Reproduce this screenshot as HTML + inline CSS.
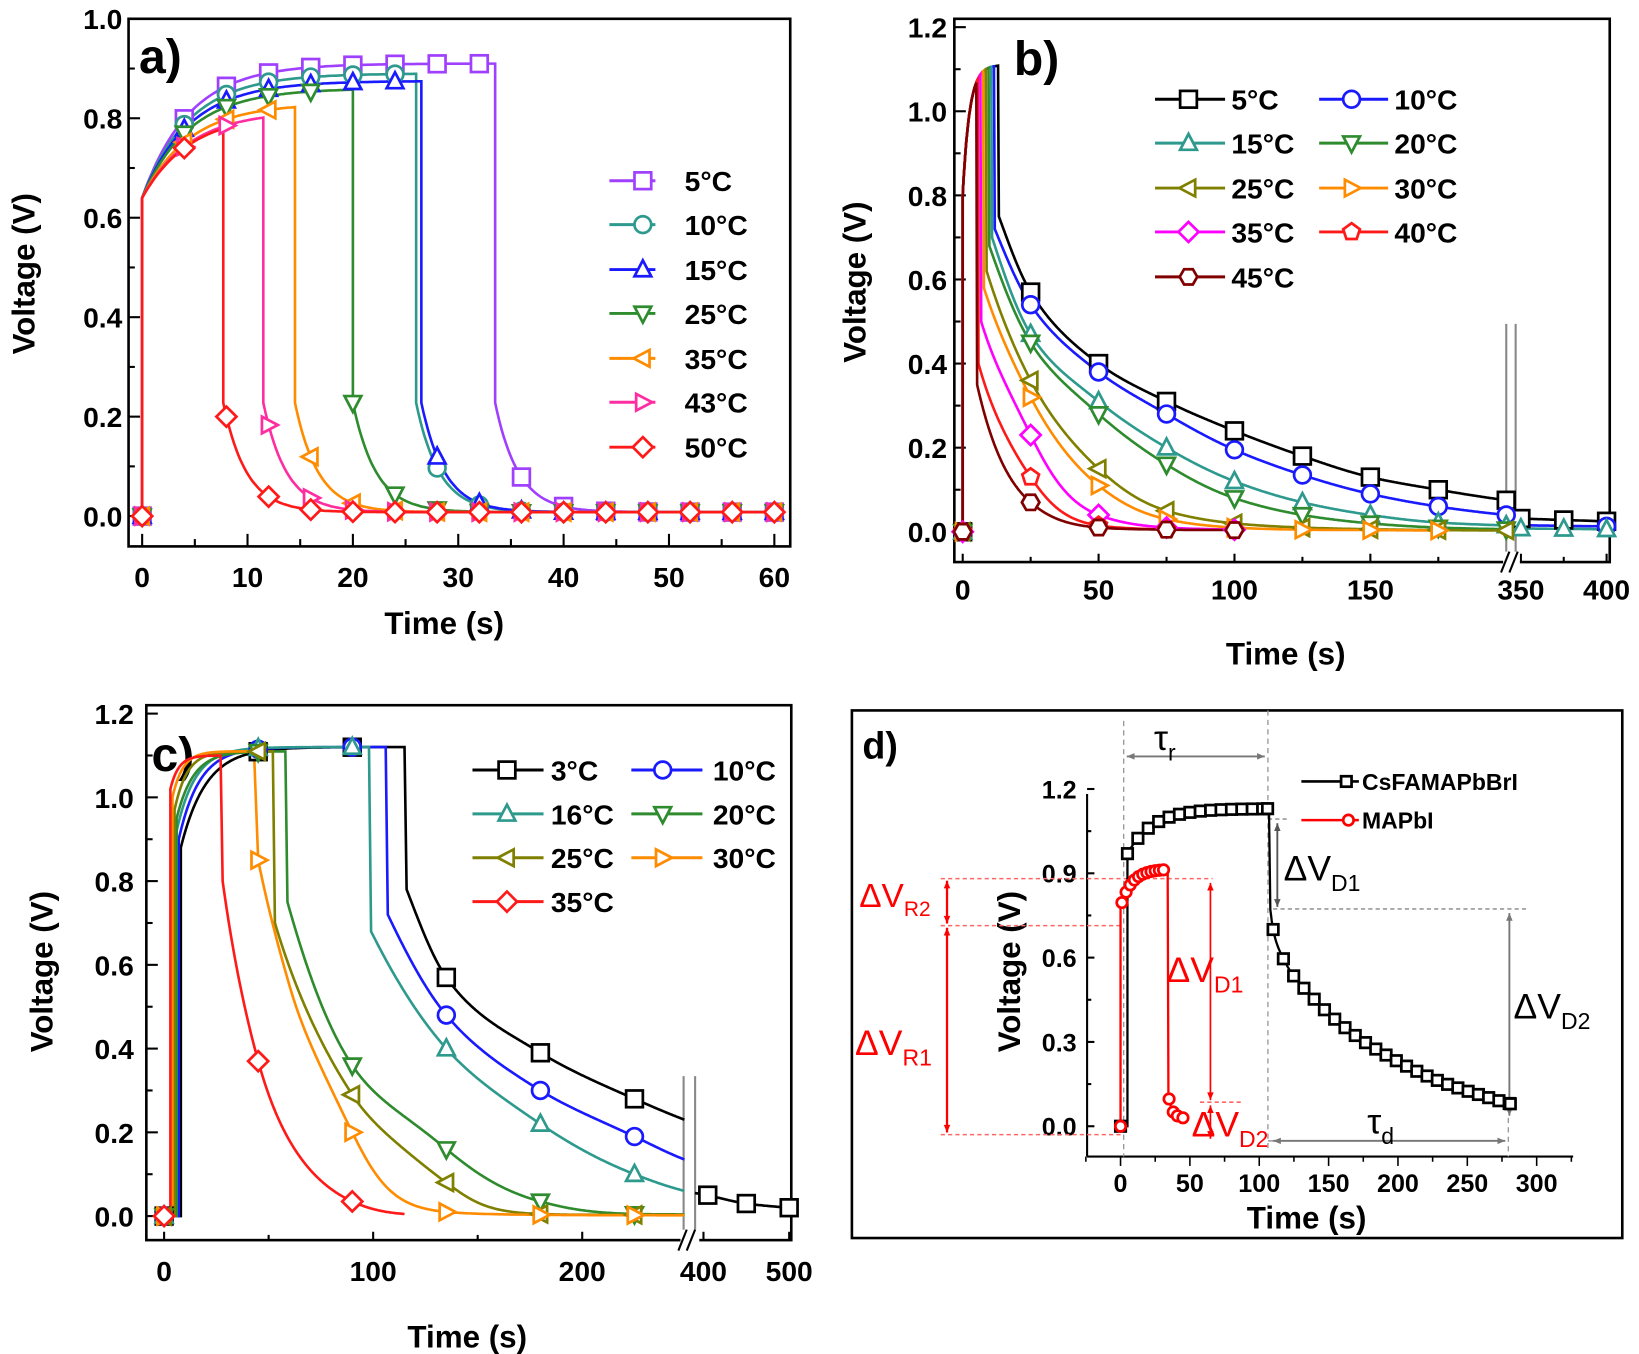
<!DOCTYPE html>
<html><head><meta charset="utf-8"><style>
html,body{margin:0;padding:0;background:#fff}
svg{display:block}
text{font-family:"Liberation Sans",Arial,sans-serif;font-weight:bold}
</style></head><body>
<svg id="s" width="1639" height="1354" viewBox="0 0 1568 1296" preserveAspectRatio="none" xmlns="http://www.w3.org/2000/svg"></svg>
<script>
var out=[];
function mono0(P){var n=P.length,x=P.map(p=>p[0]),y=P.map(p=>p[1]),d=[],m=[];
for(var i=0;i<n-1;i++)d.push((y[i+1]-y[i])/(x[i+1]-x[i]));
m[0]=d[0];m[n-1]=d[n-2];for(i=1;i<n-1;i++)m[i]=d[i-1]*d[i]<=0?0:(d[i-1]+d[i])/2;
for(i=0;i<n-1;i++){if(d[i]==0){m[i]=0;m[i+1]=0;}else{var a=m[i]/d[i],b=m[i+1]/d[i],s=a*a+b*b;if(s>9){var t=3/Math.sqrt(s);m[i]=t*a*d[i];m[i+1]=t*b*d[i];}}}
return function(t){if(t<=x[0])return y[0];if(t>=x[n-1])return y[n-1];var i=0;while(t>x[i+1])i++;var h=x[i+1]-x[i],s=(t-x[i])/h,s2=s*s,s3=s2*s;
return (2*s3-3*s2+1)*y[i]+(s3-2*s2+s)*h*m[i]+(-2*s3+3*s2)*y[i+1]+(s3-s2)*h*m[i+1];};}
function mono(P){var f=mono0(P.map(p=>[p[0],Math.log(Math.max(p[1],0.002))]));return t=>Math.exp(f(t));}
function mk(type,x,y,c,r){r=r||8;var st=' fill="#fff" stroke="'+c+'" stroke-width="2.6"';
function poly(pts){return '<polygon points="'+pts.map(p=>(x+p[0]*r).toFixed(1)+','+(y+p[1]*r).toFixed(1)).join(' ')+'"'+st+'/>';}
if(type=='sq')return '<rect x="'+(x-r)+'" y="'+(y-r)+'" width="'+2*r+'" height="'+2*r+'"'+st+'/>';
if(type=='ci')return '<circle cx="'+x+'" cy="'+y+'" r="'+r+'"'+st+'/>';
if(type=='up')return poly([[0,-1.1],[1,0.8],[-1,0.8]]);
if(type=='dn')return poly([[0,1.1],[1,-0.8],[-1,-0.8]]);
if(type=='lf')return poly([[-1.1,0],[0.8,-1],[0.8,1]]);
if(type=='rt')return poly([[1.1,0],[-0.8,-1],[-0.8,1]]);
if(type=='di')return poly([[0,-1.2],[1.2,0],[0,1.2],[-1.2,0]]);
if(type=='pe'){var a=[];for(var k=0;k<5;k++){var an=-Math.PI/2+k*2*Math.PI/5;a.push([Math.cos(an)*1.05,Math.sin(an)*1.05]);}return poly(a);}
if(type=='hx'){var a=[];for(var k=0;k<6;k++){var an=k*Math.PI/3;a.push([Math.cos(an)*1.05,Math.sin(an)*1.05]);}return poly(a);}}
function path(pts,c,w){return '<path d="M'+pts.map(p=>p[0].toFixed(1)+','+p[1].toFixed(1)).join('L')+'" fill="none" stroke="'+c+'" stroke-width="'+(w||2.5)+'"/>';}
function T(x,y,s,t,a,c,extra){return '<text x="'+x+'" y="'+y+'" font-size="'+s+'" text-anchor="'+(a||'start')+'" fill="'+(c||'#000')+'" '+(extra||'')+'>'+t+'</text>';}
function line(x1,y1,x2,y2,c,w,da){return '<line x1="'+x1+'" y1="'+y1+'" x2="'+x2+'" y2="'+y2+'" stroke="'+(c||'#000')+'" stroke-width="'+(w||2)+'"'+(da?' stroke-dasharray="'+da+'"':'')+'/>';}
function leg(x1,x2,xm,y,c,m,txt,tx){out.push(line(x1,y,x2,y,c,2.8));out.push(mk(m,xm,y,c));out.push(T(tx,y+10,27,txt));}

/* ---------- Panel a ---------- */
(function(){var X=t=>136+t*10.08,Y=v=>494-v*476;
out.push('<rect x="123" y="18" width="633" height="505" fill="none" stroke="#000" stroke-width="2.5"/>');
for(var t=0;t<=60;t+=5){out.push(line(X(t),523,X(t),t%10?516:511,'#000',2));if(t%10==0)out.push(T(X(t),562,27,t,'middle'));}
for(var v=0;v<=10;v++){var y=Y(v/10);out.push(line(123,y,v%2?129:134,y,'#000',2));if(v%2==0)out.push(T(117,y+10,27,(v/10).toFixed(1),'end'));}
out.push(T(425,607,30,'Time (s)','middle'));
out.push(T(0,0,30,'Voltage (V)','middle','#000','transform="translate(33,262) rotate(-90)"'));
out.push(T(133,70,46,'a)'));
var S=[['#a040ff','sq',0.91,33.5],['#2e9a8e','ci',0.89,26],['#1a1aff','up',0.875,26.5],['#2e8b2e','dn',0.86,20],['#ff8c00','lf',0.83,14.5],['#ff2ea0','rt',0.815,11.5],['#ff1a1a','di',0.81,7.7]];
S.forEach(function(s){var f=function(t){if(t<s[3])return s[2]-(s[2]-0.64)*Math.exp(-t/4.5);return 0.008+0.22*Math.exp(-(t-s[3])/2.2);};
var p=[[X(0),Y(0)]];for(var t=0;t<s[3];t+=0.2)p.push([X(t),Y(f(t))]);p.push([X(s[3]),Y(f(s[3]-0.001))]);for(t=s[3];t<=60;t+=0.2)p.push([X(t),Y(f(t))]);
out.push(path(p,s[0]));s.f=f;});
S.forEach(function(s){for(var t=0;t<=60;t+=4){out.push(mk(s[1],X(t),Y(t==0?0:s.f(t)),s[0]));}});
var ly=[173,215,258,300,343,385,428],nm=['5°C','10°C','15°C','25°C','35°C','43°C','50°C'];
S.forEach(function(s,i){leg(583,627,615,ly[i],s[0],s[1],nm[i],655);});
})();

/* ---------- Panel b ---------- */
(function(){var X=t=>t<=205?921+t*2.6:1455+(t-350)*1.64,Y=v=>509-v*402.5;
out.push('<rect x="913" y="18" width="627" height="520" fill="none" stroke="#000" stroke-width="2.5"/>');
[0,50,100,150].forEach(t=>{out.push(line(X(t),538,X(t),530));out.push(T(X(t),574,27,t,'middle'));});
[25,75,125,175].forEach(t=>out.push(line(X(t),538,X(t),533)));
[350,400].forEach(t=>{out.push(line(X(t),538,X(t),530));out.push(T(X(t),574,27,t,'middle'));});
out.push(line(X(375),538,X(375),533));
for(var v=0;v<=12;v++){var y=Y(v/10);out.push(line(913,y,v%2?919:924,y));if(v%2==0)out.push(T(906,y+10,27,(v/10).toFixed(1),'end'));}
out.push(line(1441,310,1441,538,'#888',2));out.push(line(1450,310,1450,538,'#888',2));
out.push('<rect x="1438" y="528" width="16" height="20" fill="#fff"/>');out.push(line(1436,548,1444,528,'#000',2));out.push(line(1444,548,1452,528,'#000',2));
out.push(T(1230,636,30,'Time (s)','middle'));
out.push(T(0,0,30,'Voltage (V)','middle','#000','transform="translate(828,270) rotate(-90)"'));
out.push(T(970,72,46,'b)'));
var S=[['#000','sq',13,0.75,[[25,.57],[50,.40],[75,.31],[100,.24],[125,.18],[150,.13],[175,.10],[200,.075]],[[347,.032],[375,.028],[400,.025]]],
['#1a1aff','ci',11.5,0.72,[[25,.54],[50,.38],[75,.28],[100,.195],[125,.135],[150,.09],[175,.06],[200,.04]],[[347,.016],[375,.014],[400,.013]]],
['#2e9a8e','up',10.5,0.70,[[25,.47],[50,.31],[75,.20],[100,.12],[125,.07],[150,.04],[175,.022],[200,.015]],[[347,.008],[375,.007],[400,.006]]],
['#2e8b2e','dn',9.5,0.68,[[25,.45],[50,.28],[75,.16],[100,.08],[125,.04],[150,.02],[175,.01],[200,.006]],null],
['#808000','lf',8.5,0.62,[[25,.36],[50,.15],[75,.05],[100,.02],[125,.01],[150,.006],[175,.004],[200,.003]],null],
['#ff8c00','rt',7.5,0.58,[[25,.32],[50,.11],[75,.03],[100,.01],[125,.005],[150,.004],[175,.003]],null],
['#ff00ff','di',6.5,0.50,[[25,.23],[50,.04],[75,.01],[100,.005]],null],
['#ff1a1a','pe',5.5,0.40,[[25,.13],[50,.015],[75,.005]],null],
['#800000','hx',5,0.35,[[25,.07],[50,.01],[75,.005],[100,.004]],null]];
S.forEach(function(s){var r=t=>1.11-(1.11-0.8)*Math.exp(-t/2.5);var p=[[X(0),Y(0)]];
for(var t=0;t<s[2];t+=0.2)p.push([X(t),Y(r(t))]);var vp=r(s[2]);
var D=[[s[2]+0.3,s[3]]].concat(s[4]);var f=mono(D);var end=s[4][s[4].length-1][0];
p.push([X(s[2]),Y(vp)]);
for(t=s[2]+0.3;t<=end;t+=0.25)p.push([X(t),Y(f(t))]);out.push(path(p,s[0]));
if(s[5]){var g=mono(s[5]),q=[];for(t=347;t<=400;t+=1)q.push([X(t),Y(g(t))]);out.push(path(q,s[0]));}
s.f=f;s.g=s[5]?mono(s[5]):null;});
S.forEach(function(s){out.push(mk(s[1],X(0),Y(0),s[0]));s[4].forEach(p=>out.push(mk(s[1],X(p[0]),Y(p[1]),s[0])));
if(s[5])[350,375,400].forEach(t=>{if(s[0]!='#1a1aff'||t==400)out.push(mk(s[1],X(t),Y(s.g(t)),s[0]));});});
var nm=['5°C','10°C','15°C','20°C','25°C','30°C','35°C','40°C','45°C'],rows=[95,137,180,222,265];
S.forEach(function(s,i){var col=i%2,row=Math.floor(i/2);if(col==0)leg(1105,1172,1137,rows[row],s[0],s[1],nm[i],1178);else leg(1262,1328,1293,rows[row],s[0],s[1],nm[i],1334);});
})();

/* ---------- Panel c ---------- */
(function(){var X=t=>t<=260?157+t*2:673+(t-400)*0.82,Y=v=>1164-v*400.8;
out.push('<rect x="140" y="675" width="617" height="512" fill="none" stroke="#000" stroke-width="2.5"/>');
[0,100,200].forEach(t=>{out.push(line(X(t),1187,X(t),1179));out.push(T(X(t),1226,27,t,'middle'));});
[50,150].forEach(t=>out.push(line(X(t),1187,X(t),1182)));
[400,500].forEach(t=>{out.push(line(X(t),1187,X(t),1179));out.push(T(X(t),1226,27,t,'middle'));});
for(var v=0;v<=12;v++){var y=Y(v/10);out.push(line(140,y,v%2?146:151,y));if(v%2==0)out.push(T(128,y+10,27,(v/10).toFixed(1),'end'));}
out.push(line(654,1030,654,1187,'#888',2));out.push(line(665,1030,665,1187,'#888',2));
out.push('<rect x="651" y="1177" width="18" height="20" fill="#fff"/>');out.push(line(649,1197,657,1177,'#000',2));out.push(line(657,1197,665,1177,'#000',2));
out.push(T(447,1290,30,'Time (s)','middle'));
out.push(T(0,0,30,'Voltage (V)','middle','#000','transform="translate(50,930) rotate(-90)"'));
out.push(T(145,738,46,'c)'));
var S=[['#000','sq',8,.88,12,1.12,115,[[116,.78],[135,.57],[180,.39],[225,.28],[249,.23]]],
['#1a1aff','ci',7,.9,10,1.12,106,[[107,.72],[135,.48],[180,.30],[225,.19],[249,.135]]],
['#2e9a8e','up',6,.92,9,1.12,98,[[99,.68],[135,.40],[180,.22],[225,.10],[249,.06]]],
['#2e8b2e','dn',6,.95,8,1.11,58,[[59,.75],[90,.36],[135,.16],[180,.035],[225,.005],[249,.004]]],
['#808000','lf',5,.97,6,1.11,52,[[53,.70],[90,.29],[135,.08],[180,.005],[225,.003],[249,.003]]],
['#ff8c00','rt',4,1.0,5,1.11,43,[[45,.85],[60,.55],[90,.20],[135,.01],[180,.003],[249,.002]]],
['#ff1a1a','di',3,1.02,4,1.10,27,[[28,.80],[45,.37],[90,.035],[115,.005]]]];
S.forEach(function(s){var r=t=>s[5]-(s[5]-s[3])*Math.exp(-(t-s[2])/s[4]);var p=[[X(0),Y(0)],[X(s[2]),Y(0)]];
for(var t=s[2];t<s[6];t+=0.3)p.push([X(t),Y(r(t))]);p.push([X(s[6]),Y(r(s[6]))]);var f=mono(s[7]);var t0=s[7][0][0],end=s[7][s[7].length-1][0];
for(t=t0;t<=end;t+=0.3)p.push([X(t),Y(f(t))]);out.push(path(p,s[0]));
s.f=t=>t<s[2]?0:(t<s[6]?r(t):f(t));s.end=end;});
var g=mono([[390,.055],[405,.05],[450,.03],[500,.02]]),q=[];for(var t=390;t<=500;t++)q.push([X(t),Y(g(t))]);out.push(path(q,'#000'));
S.forEach(function(s){[0,45,90,135,180,225].forEach(t=>{if(t<=s.end)out.push(mk(s[1],X(t),Y(t==0?0:s.f(t)),s[0]));});});
[405,450,500].forEach(t=>out.push(mk('sq',X(t),Y(g(t)),'#000')));
var nm=['3°C','10°C','16°C','20°C','25°C','30°C','35°C'],rows=[737,779,821,863];
S.forEach(function(s,i){var col=i%2,row=Math.floor(i/2);if(col==0)leg(452,520,485,rows[row],s[0],s[1],nm[i],527);else leg(604,672,634,rows[row],s[0],s[1],nm[i],682);});
})();

/* ---------- Panel d ---------- */
(function(){var X=t=>1072+t*1.327,Y=v=>1078-v*269;
out.push('<rect x="815" y="680" width="737" height="505" fill="none" stroke="#000" stroke-width="2.5"/>');
out.push(line(1040,760,1040,1107,'#000',2));out.push(line(1040,1107,1505,1107,'#000',2));
for(var t=-25;t<=325;t+=25){out.push(line(X(t),1107,X(t),t%50?1112:1116,'#000',1.5));if(t%50==0&&t>=0)out.push(T(X(t),1141,24,t,'middle'));}
[0,0.3,0.6,0.9,1.2].forEach(v=>{out.push(line(1040,Y(v),1047,Y(v)));out.push(T(1030,Y(v)+9,24,v.toFixed(1),'end'));});
[0.15,0.45,0.75,1.05].forEach(v=>out.push(line(1040,Y(v),1044,Y(v))));
out.push(T(1250,1176,30,'Time (s)','middle'));
out.push(T(0,0,30,'Voltage (V)','middle','#000','transform="translate(976,930) rotate(-90)"'));
out.push(T(825,726,36,'d)'));
out.push(line(1075,690,1075,1107,'#999',1.3,'5,4'));out.push(line(1213,680,1213,1100,'#999',1.3,'5,4'));
out.push(line(1443,1070,1443,1107,'#999',1.3,'5,4'));
out.push(line(1213,784,1232,784,'#999',1.5,'4,3'));out.push(line(1218,870,1460,870,'#999',1.5,'4,3'));
out.push(line(1213,1092,1440,1092,'#999',1.5));
out.push(line(900,841,1160,841,'#f66',1.5,'4,3'));out.push(line(900,886,1072,886,'#f66',1.5,'4,3'));
out.push(line(900,1086,1072,1086,'#f66',1.5,'4,3'));out.push(line(1148,1055,1190,1055,'#f66',1.5,'4,3'));
function arr(x1,y1,x2,y2,c,w){var s=line(x1,y1,x2,y2,c,w||1.8);var a=Math.atan2(y2-y1,x2-x1),L=8;
function head(x,y,an){return '<polygon points="'+x+','+y+' '+(x-L*Math.cos(an-0.4))+','+(y-L*Math.sin(an-0.4))+' '+(x-L*Math.cos(an+0.4))+','+(y-L*Math.sin(an+0.4))+'" fill="'+c+'"/>';}
return s+head(x2,y2,a)+head(x1,y1,a+Math.PI);}
out.push(arr(1078,724,1210,724,'#777'));out.push(arr(1222,788,1222,868,'#555'));out.push(arr(1444,874,1444,1068,'#777'));
out.push(arr(1218,1092,1440,1092,'#777'));
out.push(arr(906,843,906,884,'#f00',2.2));out.push(arr(906,888,906,1084,'#f00',2.2));
out.push(arr(1158,845,1158,1053,'#f00',1.6));out.push(arr(1158,1058,1158,1090,'#f00',1.6));
var fb=function(t){if(t<5)return 0;if(t<107)return 1.13-(1.13-0.97)*Math.exp(-(t-5)/18);return 0;};
var fd=mono([[108,0.77],[110,0.70],[117,0.60],[140,0.45],[170,0.32],[200,0.23],[230,0.16],[260,0.11],[281,0.08]]);
var p=[[X(0),Y(0)],[X(5),Y(0)]];for(var t=5;t<107;t+=0.5)p.push([X(t),Y(fb(t))]);p.push([X(107),Y(1.13)]);for(t=108;t<=281;t+=0.5)p.push([X(t),Y(fd(t))]);out.push(path(p,'#000',2.2));
var fr=t=>t<34?0.915-(0.915-0.78)*Math.exp(-t/8):0;var frd=mono([[34.5,.11],[37,.06],[40,.04],[45,.03]]);
p=[[X(0),Y(0)]];for(t=0;t<34;t+=0.3)p.push([X(t),Y(fr(t))]);p.push([X(34),Y(0.915)]);for(t=34.5;t<=45;t+=0.2)p.push([X(t),Y(frd(t))]);out.push(path(p,'#f00',2.2));
out.push(mk('sq',X(0),Y(0),'#000',5));
for(t=5;t<107;t+=7.5)out.push(mk('sq',X(t),Y(fb(t)),'#000',5));out.push(mk('sq',X(106),Y(1.13),'#000',5));
for(t=110;t<=281;t+=7.4)out.push(mk('sq',X(t),Y(fd(t)),'#000',5));out.push(mk('sq',X(281),Y(fd(281)),'#000',5));
out.push(mk('ci',X(0),Y(0),'#f00',5));for(t=1;t<34;t+=3)out.push(mk('ci',X(t),Y(fr(t)),'#f00',5));
[35,38,41,45].forEach(t=>out.push(mk('ci',X(t),Y(frd(t)),'#f00',5)));
out.push(line(1245,748,1300,748,'#000',2.5));out.push(mk('sq',1288,748,'#000',5));out.push(T(1303,756,22,'CsFAMAPbBrI'));
out.push(line(1245,785,1300,785,'#f00',2.5));out.push(mk('ci',1290,785,'#f00',5));out.push(T(1303,793,22,'MAPbI'));
out.push('<text x="1104" y="718" font-size="34" style="font-weight:normal">τ<tspan font-size="22" dy="10">r</tspan></text>');
out.push('<text x="1308" y="1085" font-size="34" style="font-weight:normal">τ<tspan font-size="22" dy="10">d</tspan></text>');
out.push('<text x="1228" y="843" font-size="34" style="font-weight:normal">ΔV<tspan font-size="22" dy="10">D1</tspan></text>');
out.push('<text x="1448" y="975" font-size="34" style="font-weight:normal">ΔV<tspan font-size="22" dy="10">D2</tspan></text>');
out.push('<text x="822" y="868" font-size="32" fill="#f00" style="font-weight:normal">ΔV<tspan font-size="20" dy="9">R2</tspan></text>');
out.push('<text x="818" y="1010" font-size="34" fill="#f00" style="font-weight:normal">ΔV<tspan font-size="22" dy="10">R1</tspan></text>');
out.push('<text x="1116" y="940" font-size="34" fill="#f00" style="font-weight:normal">ΔV<tspan font-size="22" dy="10">D1</tspan></text>');
out.push('<text x="1140" y="1088" font-size="34" fill="#f00" style="font-weight:normal">ΔV<tspan font-size="22" dy="10">D2</tspan></text>');
})();
document.getElementById('s').innerHTML=out.join('');
</script>
</body></html>
